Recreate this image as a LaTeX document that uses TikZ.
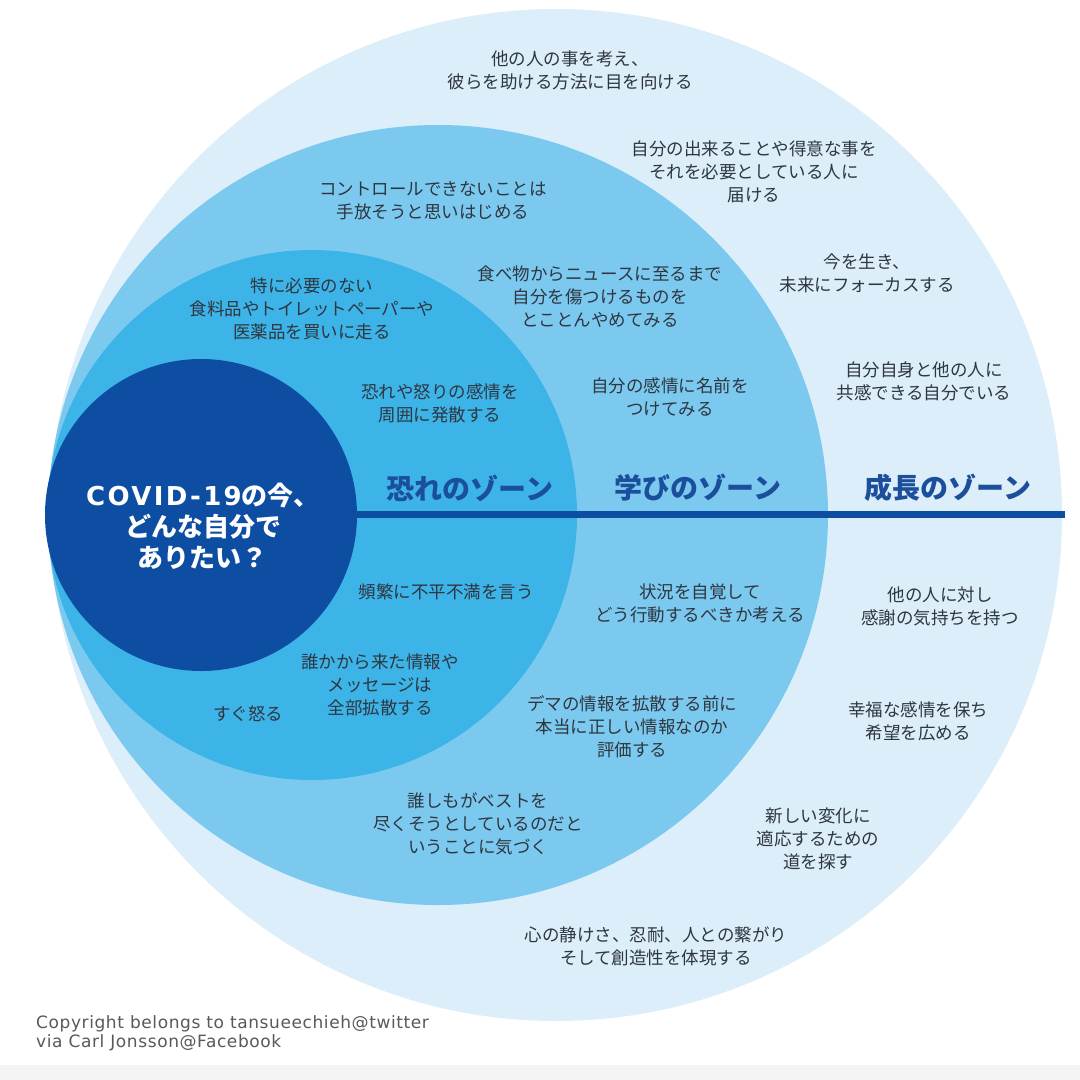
\documentclass[tikz,border=0pt]{standalone}
\usepackage{fontspec}
\newfontfamily\cjk{Noto Sans CJK JP}
\newfontfamily\latin{DejaVu Sans}
\newfontfamily\latinwide[LetterSpace=9]{DejaVu Sans}
\newfontfamily\latinsp[LetterSpace=3.5]{DejaVu Sans}
\definecolor{ringA}{HTML}{DCEEF9}
\definecolor{ringB}{HTML}{7CC9F0}
\definecolor{ringC}{HTML}{3DB4E8}
\definecolor{core}{HTML}{0E4EA2}
\definecolor{zone}{HTML}{1B4E9B}
\definecolor{txt}{HTML}{2E3640}
\definecolor{band}{HTML}{F4F4F4}
\begin{document}
\begin{tikzpicture}[x=1pt,y=-1pt,
  ring/.style={circle,inner sep=0pt,draw=none},
  item/.style={align=center,inner sep=0pt,text=txt,font=\cjk\fontsize{17.5}{23}\selectfont},
  zonelbl/.style={inner sep=0pt,text=zone,font=\cjk\bfseries\fontsize{28}{32}\selectfont}]
\useasboundingbox (0,0) rectangle (1080,1080);
\fill[white] (0,0) rectangle (1080,1080);
\fill[band] (0,1065) rectangle (1080,1080);
% rings
\node[ring,fill=ringA,minimum size=1012pt] (outer) at (556,515) {};
\node[ring,fill=ringB,minimum size=780pt] (learn) at (438,515) {};
\node[ring,fill=ringC,minimum size=530pt] (fear) at (312,515) {};
\node[ring,fill=core,minimum size=312pt] (center) at (201,515) {};
% axis line
\coordinate (lineend) at (1065,514);
\draw[core,line width=7pt] (center.east |- 0,514) -- (lineend);
% center text
\node[align=center,inner sep=0pt,text=white,font=\cjk\bfseries\fontsize{26}{31}\selectfont] (question) at (203,526)
  {{\latinwide\bfseries COVID-19}の今、\\どんな自分で\\ありたい？};
% zone labels
\node[zonelbl] (zfear) at (470,488) {恐れのゾーン};
\node[zonelbl] (zlearn) at (698,488) {学びのゾーン};
\node[zonelbl] (zgrow) at (948,488) {成長のゾーン};
% items
\node[item] (t1) at (570,70) {他の人の事を考え、\\彼らを助ける方法に目を向ける};
\node[item] (t2) at (754,172) {自分の出来ることや得意な事を\\それを必要としている人に\\届ける};
\node[item] (t3) at (433,201) {コントロールできないことは\\手放そうと思いはじめる};
\node[item] (t4) at (867,273) {今を生き、\\未来にフォーカスする};
\node[item] (t5) at (600,297) {食べ物からニュースに至るまで\\自分を傷つけるものを\\とことんやめてみる};
\node[item] (t6) at (312,309) {特に必要のない\\食料品やトイレットペーパーや\\医薬品を買いに走る};
\node[item] (t7) at (924,381) {自分自身と他の人に\\共感できる自分でいる};
\node[item] (t8) at (440,403) {恐れや怒りの感情を\\周囲に発散する};
\node[item] (t9) at (670,397) {自分の感情に名前を\\つけてみる};
\node[item] (t10) at (446,592) {頻繁に不平不満を言う};
\node[item] (t11) at (700,603) {状況を自覚して\\どう行動するべきか考える};
\node[item] (t12) at (940,606) {他の人に対し\\感謝の気持ちを持つ};
\node[item] (t13) at (380,685) {誰かから来た情報や\\メッセージは\\全部拡散する};
\node[item] (t14) at (248,714) {すぐ怒る};
\node[item] (t15) at (632,727) {デマの情報を拡散する前に\\本当に正しい情報なのか\\評価する};
\node[item] (t16) at (918,721) {幸福な感情を保ち\\希望を広める};
\node[item] (t17) at (478,824) {誰しもがベストを\\尽くそうとしているのだと\\いうことに気づく};
\node[item] (t18) at (818,839) {新しい変化に\\適応するための\\道を探す};
\node[item] (t19) at (656,946) {心の静けさ、忍耐、人との繋がり\\そして創造性を体現する};
% copyright
\node[anchor=base west,align=left,inner sep=0pt,text=black!65,font=\latinsp\fontsize{17}{19}\selectfont] (copy) at (36,1047)
  {Copyright belongs to tansueechieh@twitter\\via Carl Jonsson@Facebook};
\end{tikzpicture}
\end{document}
